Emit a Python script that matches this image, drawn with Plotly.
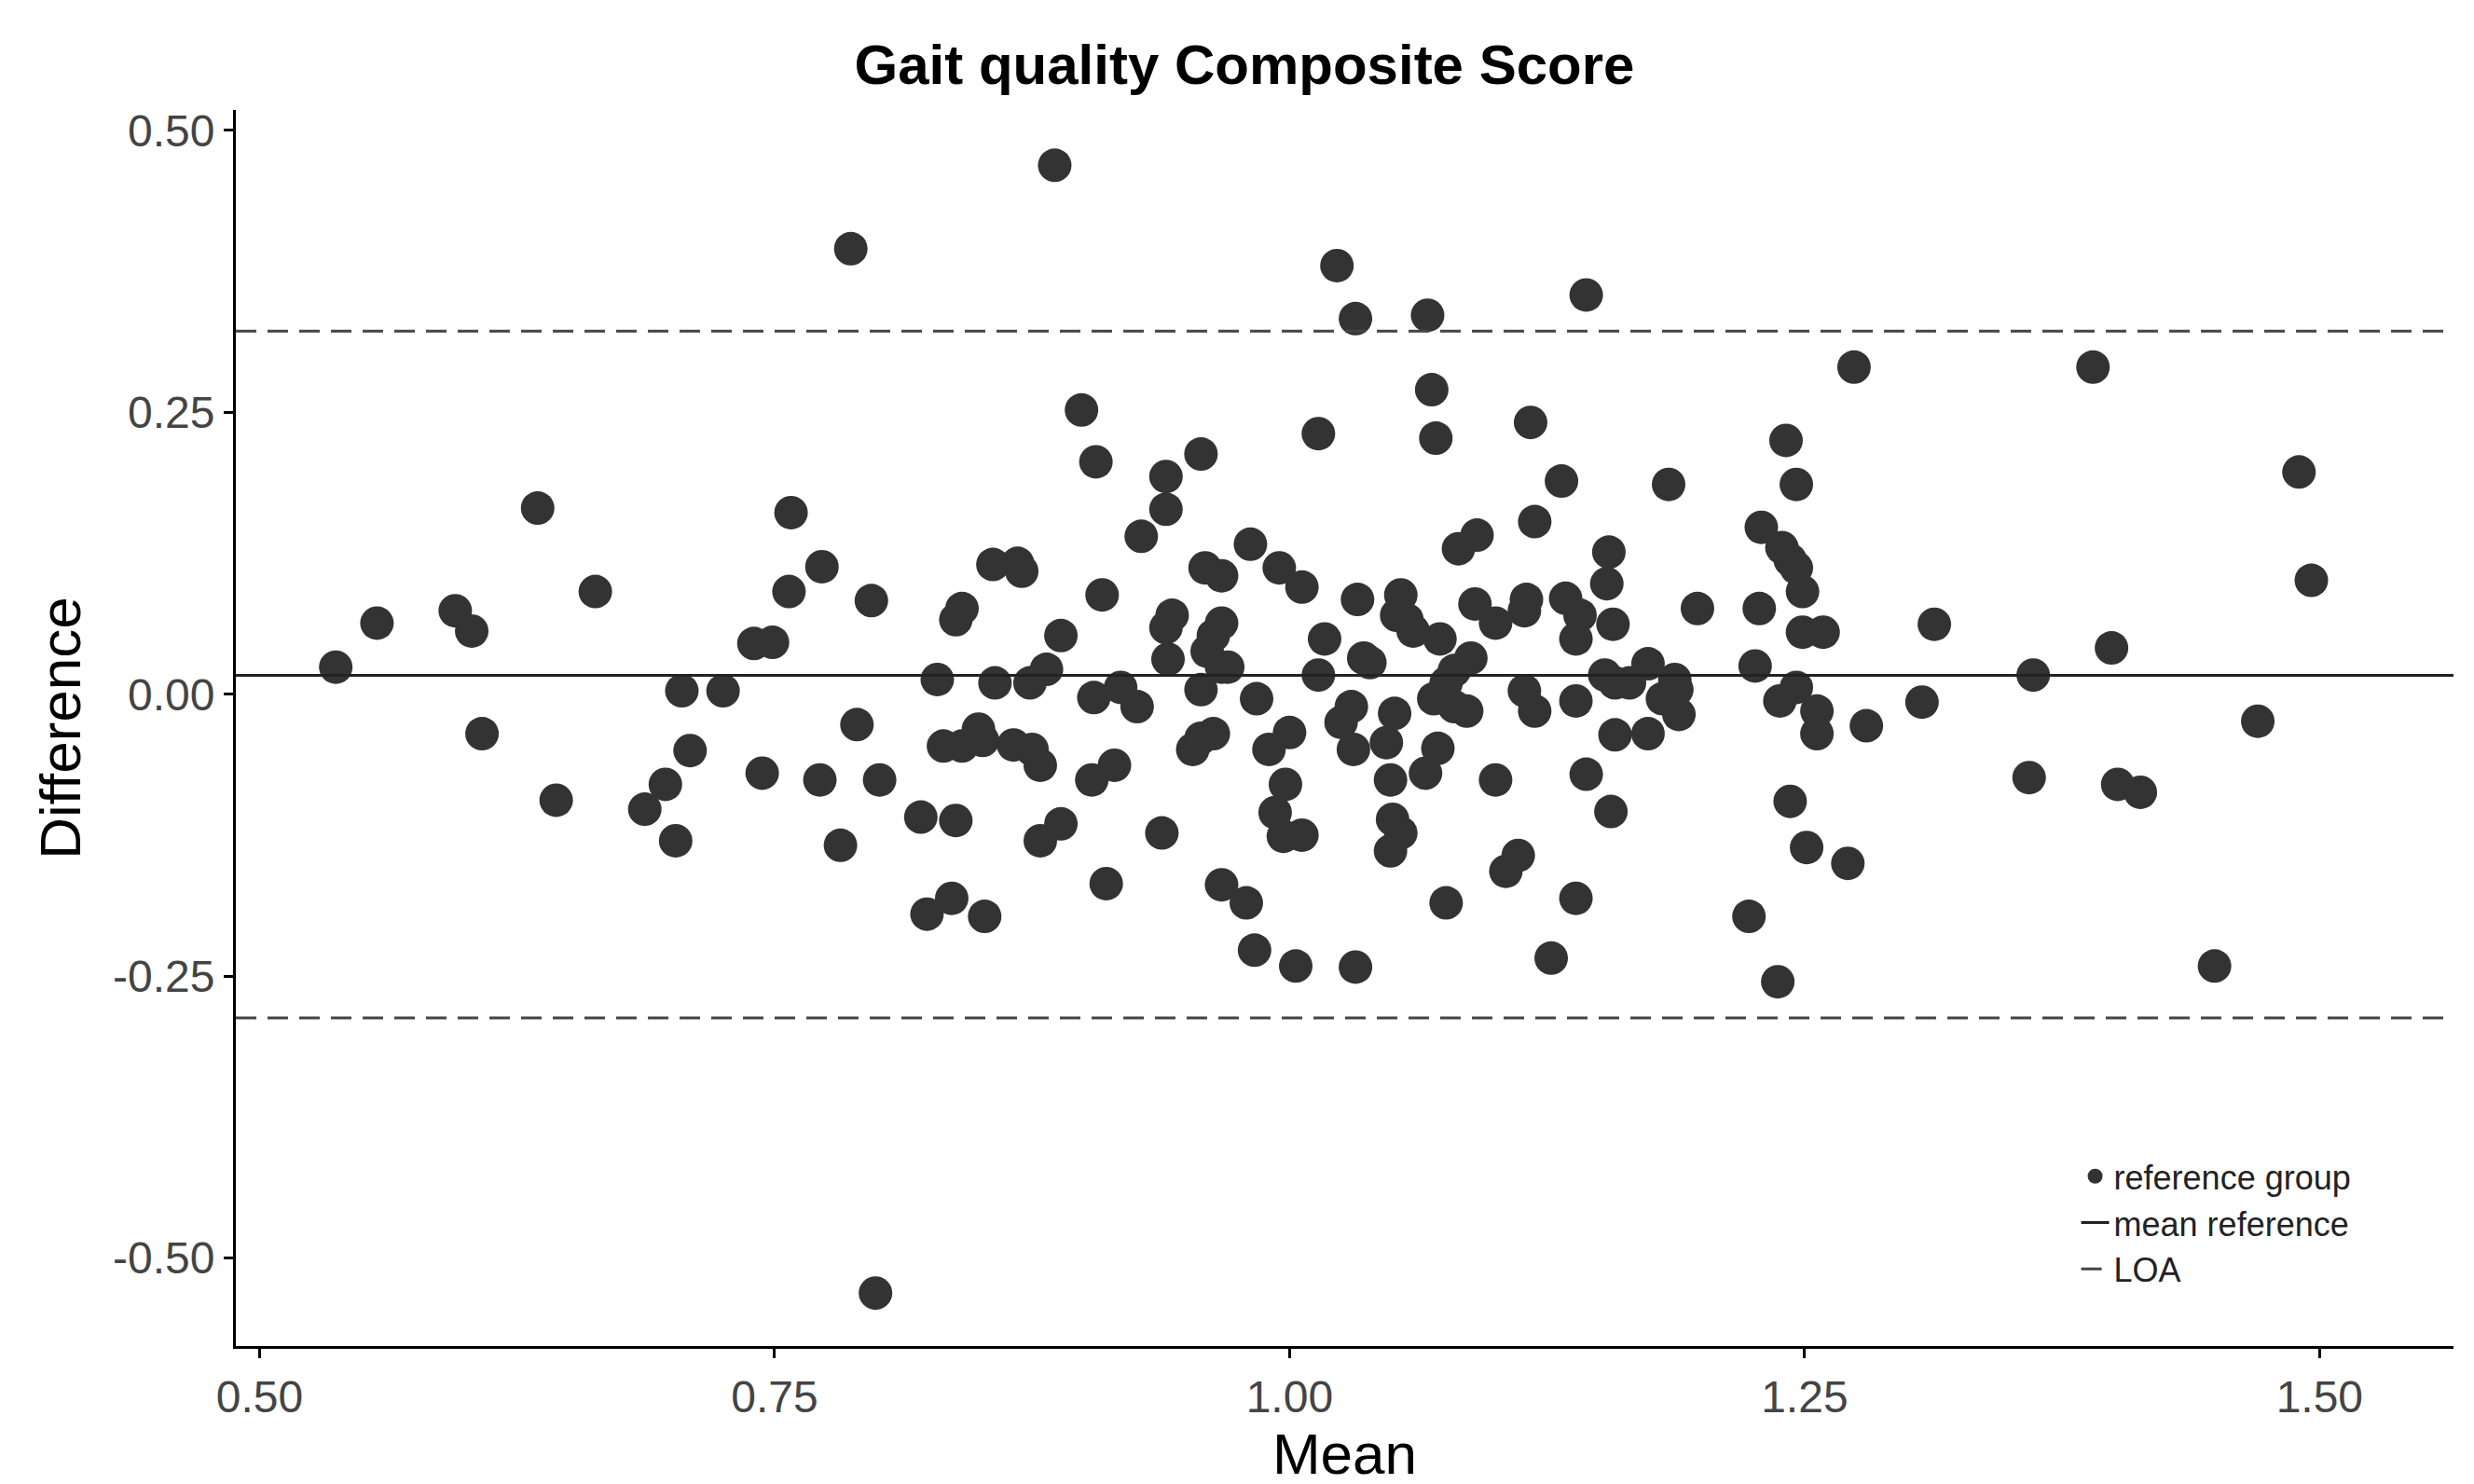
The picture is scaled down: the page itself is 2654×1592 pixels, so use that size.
import plotly.graph_objects as go

mean_x = [0.537,0.557,0.595,0.603,0.608,0.635,0.644,0.663,0.687,0.697,0.702,0.705,0.709,0.725,0.740,0.744,0.749,0.758,0.757,0.772,0.773,0.782,0.787,0.790,0.797,0.801,0.799,0.821,0.824,0.829,0.832,0.836,0.838,0.838,0.841,0.841,0.849,0.852,0.851,0.856,0.857,0.868,0.870,0.866,0.874,0.875,0.879,0.879,0.882,0.886,0.889,0.889,0.899,0.904,0.906,0.905,0.909,0.911,0.915,0.918,0.926,0.928,0.938,0.940,0.940,0.940,0.943,0.941,0.953,0.957,0.957,0.959,0.957,0.960,0.963,0.963,0.967,0.967,0.967,0.967,0.970,0.979,0.981,0.984,0.983,0.990,0.995,0.993,0.998,0.997,1.000,1.003,1.006,1.006,1.014,1.014,1.017,1.023,1.025,1.030,1.031,1.032,1.033,1.032,1.036,1.039,1.047,1.049,1.049,1.050,1.051,1.052,1.054,1.054,1.057,1.060,1.066,1.067,1.069,1.070,1.071,1.072,1.073,1.076,1.076,1.080,1.080,1.082,1.086,1.088,1.090,1.091,1.100,1.100,1.105,1.111,1.114,1.114,1.115,1.117,1.119,1.119,1.127,1.132,1.134,1.139,1.139,1.141,1.139,1.144,1.144,1.153,1.154,1.155,1.157,1.156,1.158,1.158,1.165,1.174,1.174,1.181,1.184,1.187,1.188,1.189,1.198,1.223,1.226,1.228,1.229,1.237,1.238,1.239,1.241,1.243,1.243,1.246,1.246,1.246,1.249,1.249,1.251,1.256,1.256,1.259,1.271,1.274,1.280,1.307,1.313,1.359,1.361,1.390,1.399,1.402,1.413,1.449,1.470,1.490,1.496]
diff_y = [0.024,0.063,0.074,0.056,-0.035,0.165,-0.094,0.091,-0.102,-0.080,-0.130,0.003,-0.050,0.003,0.045,-0.070,0.046,0.161,0.091,-0.076,0.113,-0.134,0.395,-0.027,0.083,-0.076,-0.531,-0.109,-0.195,0.013,-0.046,-0.181,-0.112,0.066,0.076,-0.046,-0.031,-0.197,-0.041,0.115,0.010,0.116,0.109,-0.045,0.010,-0.049,-0.063,-0.130,0.022,0.469,-0.115,0.052,0.252,-0.076,0.206,-0.003,0.088,-0.168,-0.063,0.006,-0.011,0.140,-0.123,0.164,0.193,0.059,0.070,0.031,-0.049,0.213,0.004,0.112,-0.039,0.038,0.052,-0.035,-0.169,0.105,0.024,0.063,0.024,-0.185,0.133,-0.004,-0.227,-0.049,0.112,-0.105,-0.080,-0.126,-0.034,-0.241,0.095,-0.125,0.231,0.017,0.049,0.380,-0.025,-0.011,-0.049,0.333,0.084,-0.242,0.032,0.028,-0.043,-0.076,-0.139,-0.111,-0.017,0.070,0.088,-0.123,0.066,0.056,-0.070,0.336,0.270,-0.004,0.227,-0.048,0.049,0.010,-0.185,-0.011,0.021,0.129,-0.015,0.032,0.080,0.141,0.063,-0.076,-0.157,-0.143,0.003,0.074,0.084,0.241,-0.015,0.153,-0.234,0.189,0.085,-0.181,-0.006,0.070,0.049,-0.071,0.354,0.017,0.098,0.126,0.062,-0.104,-0.036,0.010,0.010,0.027,-0.035,-0.004,0.186,0.013,0.004,-0.018,0.076,-0.197,0.025,0.076,0.148,-0.255,-0.006,0.130,0.225,0.119,-0.095,0.006,0.186,0.112,0.091,0.055,-0.136,-0.015,-0.035,0.055,-0.150,0.290,-0.028,-0.007,0.062,-0.074,0.017,0.290,0.041,-0.080,-0.087,-0.241,-0.024,0.197,0.101]
mean_diff = 0.0168
upper_loa = 0.322
lower_loa = -0.287
x_range = [0.4885, 1.565]
y_range = [-0.578, 0.518]
tick_vals_x = [0.50, 0.75, 1.00, 1.25, 1.50]
tick_text_x = ["0.50", "0.75", "1.00", "1.25", "1.50"]
tick_vals_y = [-0.50, -0.25, 0.00, 0.25, 0.50]
tick_text_y = ["-0.50", "-0.25", "0.00", "0.25", "0.50"]

fig = go.Figure()
fig.add_trace(go.Scatter(x=mean_x, y=diff_y, mode="markers", name="reference group",
                         marker=dict(size=36, color="#333333")))
fig.add_trace(go.Scatter(x=x_range, y=[mean_diff]*2, mode="lines", name="mean reference",
                         line=dict(color="#222222", width=3)))
fig.add_trace(go.Scatter(x=x_range, y=[upper_loa]*2, mode="lines", name="LOA",
                         line=dict(color="#444444", width=3, dash="22px,12px")))
fig.add_trace(go.Scatter(x=x_range, y=[lower_loa]*2, mode="lines", showlegend=False,
                         line=dict(color="#444444", width=3, dash="22px,12px")))

fig.update_layout(
    width=2654, height=1592, plot_bgcolor="white", paper_bgcolor="white",
    margin=dict(l=245, r=30, t=110, b=156),
    title=dict(text="<b>Gait quality Composite Score</b>", x=0.5, xanchor="center", y=0.975,
               font=dict(family="Liberation Sans", size=60, color="black")),
    font=dict(family="Liberation Sans", color="#444444"),
    legend=dict(x=0.83, y=0.16, xanchor="left", yanchor="top",
                font=dict(size=36, color="#222222"), bgcolor="rgba(0,0,0,0)"),
)
fig.update_xaxes(range=x_range, tickvals=tick_vals_x, ticktext=tick_text_x, showgrid=False, zeroline=False,
                 showline=True, linecolor="black", linewidth=3, ticks="outside", ticklen=10, tickwidth=3,
                 tickcolor="black", tickfont=dict(size=48, color="#444444"),
                 title=dict(text="Mean", font=dict(size=62, color="black"), standoff=8))
fig.update_yaxes(range=y_range, tickvals=tick_vals_y, ticktext=tick_text_y, showgrid=False, zeroline=False,
                 showline=True, linecolor="black", linewidth=3, ticks="outside", ticklen=10, tickwidth=3,
                 tickcolor="black", tickfont=dict(size=48, color="#444444"),
                 title=dict(text="Difference", font=dict(size=62, color="black"), standoff=15))
fig.write_html("out.html")
